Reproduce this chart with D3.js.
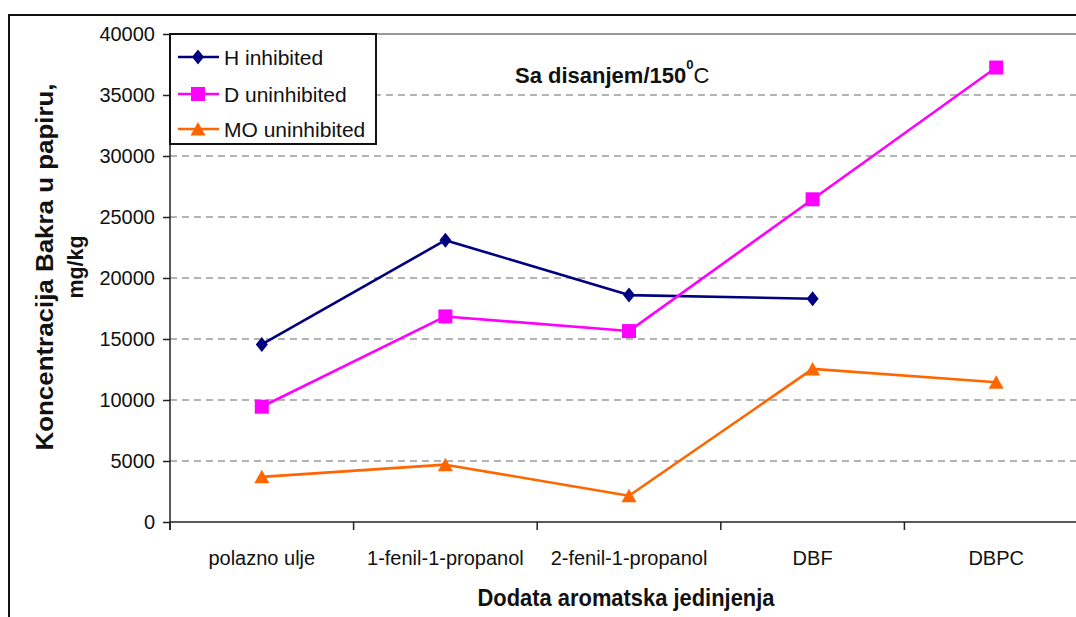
<!DOCTYPE html>
<html><head><meta charset="utf-8">
<script src="https://cdn.jsdelivr.net/npm/d3@7"></script>
<style>
body{margin:0;background:#fff;}
svg{display:block;font-family:Arial,"Liberation Sans",sans-serif;}
</style>
</head><body>
<svg id="c" width="1076" height="617"></svg>
<script>
// ---- data ----
const categories = ["polazno ulje","1-fenil-1-propanol","2-fenil-1-propanol","DBF","DBPC"];
const seriesNames = ["H inhibited","D uninhibited","MO uninhibited"];
const hInhibited = [14550, 23100, 18600, 18300, null];
const dUninhibited = [9450, 16850, 15650, 26450, 37250];
const moUninhibited = [3700, 4700, 2150, 12550, 11450];
const yTicks = [0,5000,10000,15000,20000,25000,30000,35000,40000];
const titleText = "Sa disanjem/150";
const xTitle = "Dodata aromatska jedinjenja";
const yTitle1 = "Koncentracija Bakra u papiru,";
const yTitle2 = "mg/kg";

const series = [
  {name: seriesNames[0], values: hInhibited, color: "#000080", shape: "diamond"},
  {name: seriesNames[1], values: dUninhibited, color: "#FF00FF", shape: "square"},
  {name: seriesNames[2], values: moUninhibited, color: "#FF6600", shape: "triangle"}
];

const svg = d3.select("#c");
const L = 170, R = 1088, T = 34, B = 522;

// outer border
svg.append("rect").attr("x",0).attr("y",0).attr("width",1076).attr("height",617).attr("fill","#fff");
svg.append("rect").attr("x",9).attr("y",15).attr("width",1200).attr("height",700)
  .attr("fill","none").attr("stroke","#111").attr("stroke-width",2);

const x = d3.scaleBand().domain(categories).range([L, R]);
const y = d3.scaleLinear().domain([0, 40000]).range([B, T]);

// gridlines
svg.append("g").selectAll("line").data(yTicks.filter(t => t > 0 && t < 40000)).join("line")
  .attr("x1", L).attr("x2", R).attr("y1", d => y(d)).attr("y2", d => y(d))
  .attr("stroke", "#9a9a9a").attr("stroke-width", 1.5).attr("stroke-dasharray", "7,5");
svg.append("line").attr("x1", L).attr("x2", R).attr("y1", y(40000)).attr("y2", y(40000))
  .attr("stroke", "#9a9a9a").attr("stroke-width", 2);

// y axis
const ya = svg.append("g").attr("transform", `translate(${L},0)`)
  .call(d3.axisLeft(y).tickValues(yTicks).tickSize(7).tickPadding(8).tickFormat(d3.format("d")));
ya.select(".domain").remove();
ya.selectAll(".tick line").attr("stroke", "#222").attr("stroke-width", 1.5);
ya.selectAll(".tick text").attr("font-size", 20).attr("fill", "#111")
  .attr("font-family", "Arial, 'Liberation Sans', sans-serif");
svg.append("line").attr("x1", L).attr("x2", L).attr("y1", T).attr("y2", B + 8)
  .attr("stroke", "#222").attr("stroke-width", 1.5);

// x axis
const xa = svg.append("g").attr("transform", `translate(0,${B})`)
  .call(d3.axisBottom(x).tickSize(0).tickPadding(29));
xa.select(".domain").remove();
xa.selectAll(".tick text").attr("font-size", 20).attr("fill", "#111")
  .attr("font-family", "Arial, 'Liberation Sans', sans-serif");
svg.append("line").attr("x1", L).attr("x2", R).attr("y1", B).attr("y2", B)
  .attr("stroke", "#222").attr("stroke-width", 1.5);
const edges = categories.map(c => x(c)).concat([x(categories[categories.length-1]) + x.bandwidth()]);
svg.append("g").selectAll("line").data(edges).join("line")
  .attr("x1", d => d).attr("x2", d => d).attr("y1", B).attr("y2", B + 8)
  .attr("stroke", "#222").attr("stroke-width", 1.5);

// marker shapes
function markerPath(shape) {
  const p = d3.path();
  if (shape === "diamond") { p.moveTo(0,-7.5); p.lineTo(6,0); p.lineTo(0,7.5); p.lineTo(-6,0); p.closePath(); }
  else if (shape === "square") { p.rect(-7,-7,14,14); }
  else { p.moveTo(0,-7); p.lineTo(7.5,6.5); p.lineTo(-7.5,6.5); p.closePath(); }
  return p.toString();
}

// lines + markers
const line = d3.line().defined(d => d.v != null).x(d => x(d.c) + x.bandwidth()/2).y(d => y(d.v));
series.forEach(s => {
  const pts = categories.map((c, i) => ({c, v: s.values[i]}));
  svg.append("path").datum(pts).attr("d", line).attr("fill", "none")
    .attr("stroke", s.color).attr("stroke-width", 2.6).attr("stroke-linejoin", "round");
  svg.append("g").selectAll("path").data(pts.filter(d => d.v != null)).join("path")
    .attr("transform", d => `translate(${x(d.c) + x.bandwidth()/2},${y(d.v)})`)
    .attr("d", markerPath(s.shape)).attr("fill", s.color);
});

// legend
const lg = svg.append("g");
lg.append("rect").attr("x", 170).attr("y", 34).attr("width", 206).attr("height", 110)
  .attr("fill", "#fff").attr("stroke", "#111").attr("stroke-width", 2);
const rowY = [57, 94, 129];
series.forEach((s, i) => {
  lg.append("line").attr("x1", 178).attr("x2", 219).attr("y1", rowY[i]).attr("y2", rowY[i])
    .attr("stroke", s.color).attr("stroke-width", 2.6);
  lg.append("path").attr("transform", `translate(198,${rowY[i]})`).attr("d", markerPath(s.shape)).attr("fill", s.color);
  lg.append("text").attr("x", 224).attr("y", rowY[i] + 7.5).attr("font-size", 21).attr("fill", "#111").text(s.name);
});

// chart title (one text element with superscript)
const tt = svg.append("text").attr("x", 515).attr("y", 83).attr("fill", "#111");
tt.append("tspan").attr("font-size", 22).attr("font-weight", "bold").text(titleText);
tt.append("tspan").attr("font-size", 13).attr("font-weight", "bold").attr("dy", -14).text("0");
tt.append("tspan").attr("font-size", 22).attr("dy", 14).text("C");

// axis titles
svg.append("text").attr("x", 626).attr("y", 606).attr("text-anchor", "middle")
  .attr("font-size", 24).attr("font-weight", "bold").attr("fill", "#111")
  .attr("textLength", 297).attr("lengthAdjust", "spacingAndGlyphs").text(xTitle);
svg.append("text").attr("transform", "translate(53,267) rotate(-90)").attr("text-anchor", "middle")
  .attr("font-size", 24).attr("font-weight", "bold").attr("fill", "#111")
  .attr("textLength", 367).attr("lengthAdjust", "spacingAndGlyphs").text(yTitle1);
svg.append("text").attr("transform", "translate(83,267) rotate(-90)").attr("text-anchor", "middle")
  .attr("font-size", 22).attr("font-weight", "bold").attr("fill", "#111")
  .attr("textLength", 63).attr("lengthAdjust", "spacingAndGlyphs").text(yTitle2);
</script>
</body></html>
